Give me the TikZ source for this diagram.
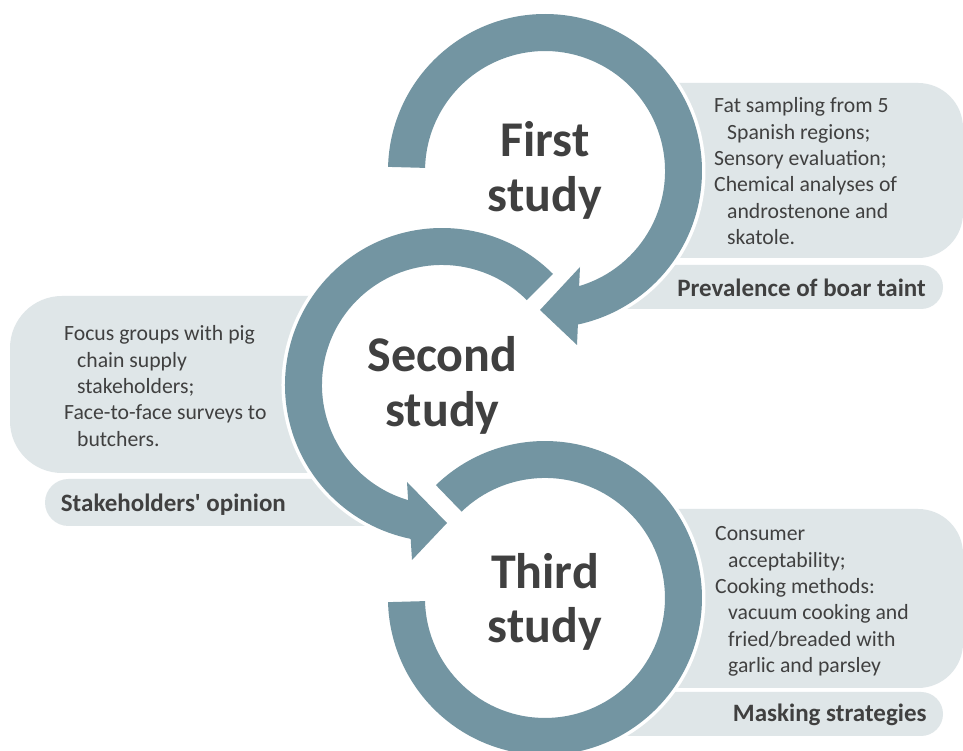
\documentclass[tikz,border=0pt]{standalone}
\usepackage{fontspec}
\setmainfont{Carlito}
\definecolor{ringblue}{RGB}{115,149,162}
\definecolor{panelgrey}{RGB}{223,230,232}
\definecolor{inkgrey}{RGB}{64,64,64}
\newcommand{\hangin}{\hspace*{13pt}}

\begin{document}
\begin{tikzpicture}[x=1pt,y=1pt,
  panel/.style={fill=panelgrey},
  ring/.style={fill=ringblue, preaction={draw=white, line width=7pt}},
  title/.style={inner sep=0pt, anchor=base, text=inkgrey,
    font=\fontsize{50}{54.5}\selectfont\bfseries},
  body/.style={inner sep=0pt, anchor=base west, text=inkgrey,
    font=\fontsize{21.7}{26.4}\selectfont},
  tag/.style={inner sep=0pt, text=inkgrey,
    font=\fontsize{25}{28}\selectfont\bfseries}]

\useasboundingbox (0,0) rectangle (963,751);
\fill[white] (0,0) rectangle (963,751);

% ---- grey panels (their hidden edges run under the rings) ----
% first study
\fill[panel] (670,493) -- (670,668) -- (918,668)
  arc[start angle=90, end angle=0, radius=45] -- (963,538)
  arc[start angle=0, end angle=-90, radius=45] -- cycle;
\fill[panel] (600,442) -- (645,486) -- (921,486)
  arc[start angle=90, end angle=-90, radius=22] -- cycle;
% second study
\fill[panel] (317,278) -- (317,455) -- (62,455)
  arc[start angle=90, end angle=180, radius=52] -- (10,330)
  arc[start angle=180, end angle=270, radius=52] -- cycle;
\fill[panel] (392,225) -- (342,272) -- (68.5,272)
  arc[start angle=90, end angle=270, radius=23.5] -- cycle;
% third study
\fill[panel] (670,63) -- (670,242) -- (918,242)
  arc[start angle=90, end angle=0, radius=45] -- (963,108)
  arc[start angle=0, end angle=-90, radius=45] -- cycle;
\fill[panel] (600,15) -- (645,59) -- (921,59)
  arc[start angle=90, end angle=-90, radius=22] -- cycle;

% ---- circular arrows ----
% first ring, centre (545,580)
\path[ring] (388.05,584.1) arc[start angle=178.5, end angle=-77.9, radius=157]
  -- (577,406) -- (540,441) -- (580,484) -- (579.1,464.9)
  arc[start angle=-73.5, end angle=178.5, radius=120] -- cycle;
% second ring, centre (442,366)
\path[ring] (553.0,477.0) arc[start angle=45, end angle=258.5, radius=157]
  -- (412,191) -- (447,228) -- (407,269) -- (408.1,250.9)
  arc[start angle=253.6, end angle=45, radius=120] -- cycle;
% third ring, centre (545,153)
\path[ring] (435.9,265.9) arc[start angle=134, end angle=-178.5, radius=157]
  -- (425.0,149.9)
  arc[start angle=-178.5, end angle=134, radius=120] -- cycle;

% ---- ring titles ----
\node[title] (t1) at (545,594.3) {\begin{tabular}[t]{@{}c@{}}First\\study\end{tabular}};
\node[title] (t2) at (442.5,379.3) {\begin{tabular}[t]{@{}c@{}}Second\\study\end{tabular}};
\node[title] (t3) at (545,162.7) {\begin{tabular}[t]{@{}c@{}}Third\\study\end{tabular}};

% ---- panel texts ----
\node[body] (d1) at (714,638.3) {\begin{tabular}[t]{@{}l@{}}
  Fat sampling from 5\\ \hangin Spanish regions;\\ Sensory evaluation;\\
  Chemical analyses of\\ \hangin androstenone and\\ \hangin skatole.\end{tabular}};
\node[body] (d2) at (64,410.3) {\begin{tabular}[t]{@{}l@{}}
  Focus groups with pig\\ \hangin chain supply\\ \hangin stakeholders;\\
  Face-to-face surveys to\\ \hangin butchers.\end{tabular}};
\node[body] (d3) at (715,210.3) {\begin{tabular}[t]{@{}l@{}}
  Consumer\\ \hangin acceptability;\\ Cooking methods:\\
  \hangin vacuum cooking and\\ \hangin fried/breaded with\\ \hangin garlic and parsley\end{tabular}};

% ---- outcome tags ----
\node[tag, anchor=base east] (o1) at (926,454.3) {Prevalence of boar taint};
\node[tag, anchor=base west] (o2) at (60.7,239.3) {Stakeholders\textquotesingle\ opinion};
\node[tag, anchor=base east] (o3) at (926.7,29.3) {Masking strategies};
\end{tikzpicture}
\end{document}
